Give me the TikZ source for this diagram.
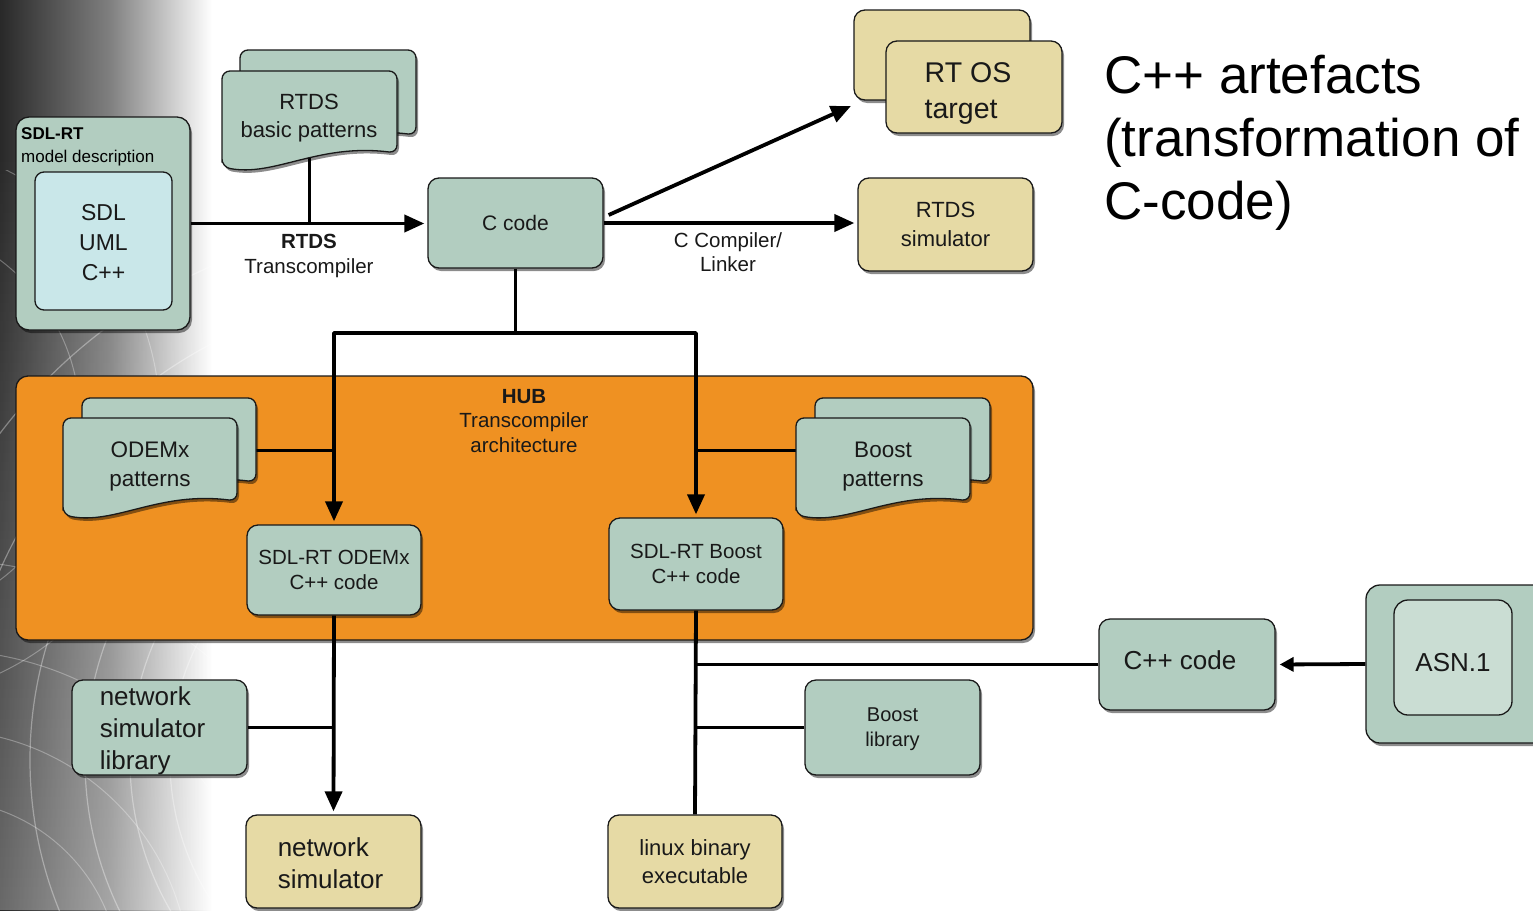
\documentclass[tikz,border=0pt]{standalone}
\usepackage{fontspec}
\setmainfont{Liberation Sans}
\usetikzlibrary{shadows,arrows.meta,fadings}
\definecolor{boxg}{HTML}{B2CDC0}
\definecolor{boxy}{HTML}{E6DAA5}
\definecolor{hubo}{HTML}{EF9122}
\definecolor{cyanin}{HTML}{C9E7E9}
\definecolor{asnin}{HTML}{CADDD3}
\newcommand\fsz[2]{\fontsize{#1pt}{#2pt}\selectfont}
\tikzset{
  shd/.style={drop shadow={shadow xshift=2pt, shadow yshift=-3pt, opacity=0.45, fill=black}},
  plainbox/.style={draw=black!90, line width=1.3pt, rounded corners=11pt, align=center, inner sep=0pt, text=black!90},
  box/.style={plainbox, shd},
  gbox/.style={box, fill=boxg},
  ybox/.style={box, fill=boxy},
  docsty/.style={draw=black!90, line width=1.3pt, rounded corners=8pt, fill=boxg, shd},
  conn/.style={line width=3.8pt, black},
  pconn/.style={line width=3pt, black},
  arr/.style={conn, -{Triangle[length=20pt, width=17pt]}, shorten >=3pt},
  lbl/.style={align=center, inner sep=0pt, text=black!90}
}
\newcommand\docshape[4]{%
  \path[docsty] (#1,#2+#4) -- (#1,#2) -- (#1+#3,#2) -- (#1+#3,#2+#4-14)
    .. controls (#1+0.55*#3,#2+#4-24) and (#1+0.3*#3,#2+#4+10) .. (#1,#2+#4) -- cycle;}
\begin{document}
\begin{tikzpicture}[x=1pt, y=-1pt, line join=round]
\clip (0,0) rectangle (1533,910);
\fill[white] (0,0) rectangle (1533,910);
% left background
\shade[left color=black!84, right color=black!50] (0,0) rectangle (110,910);
\shade[left color=black!50, right color=white] (110,0) rectangle (212,910);
\fill[white, path fading=north, fill opacity=0.3] (0,150) rectangle (212,910);
\begin{scope}
  \clip (0,170) rectangle (212,910);
  \foreach \r in {260,300,345,400,470,540} \draw[white, opacity=0.35, line width=1.2pt] (430,760) circle[radius=\r];
  \foreach \r in {180,250,330,420} \draw[white, opacity=0.3, line width=1pt] (-60,980) circle[radius=\r];
  \foreach \r in {200,280} \draw[white, opacity=0.3, line width=1pt] (-120,420) circle[radius=\r];
\end{scope}

% HUB container
\node[box, fill=hubo, minimum width=1017, minimum height=264, rounded corners=12pt] (hub) at (524.5,508) {};

% SDL-RT model
\node[gbox, minimum width=174, minimum height=213, rounded corners=13pt] (sdl) at (103,223.5) {};
\node[anchor=west, align=left, inner sep=0pt, font=\fsz{17}{23}] (sdlt) at (21,146.5) {\textbf{SDL-RT}\\model description};
\node[plainbox, fill=cyanin, minimum width=137, minimum height=138, rounded corners=9pt] (sdlin) at (103.5,241) {};
\node[lbl, font=\fsz{23}{30}] (sdlint) at ([yshift=-2pt]sdlin.center) {SDL\\UML\\C++};

% boxes
\node[gbox, minimum width=175, minimum height=90, font=\fsz{21}{25}] (ccode) at (515.5,223) {C code};
\node[ybox, minimum width=176, minimum height=90] (rtosback) at (942,55) {};
\node[ybox, minimum width=176, minimum height=92] (rtos) at (974,87) {};
\node[lbl, align=left, font=\fsz{28.5}{36}] (rtost) at ([xshift=-6pt,yshift=-7pt]rtos.center) {RT OS\\target};
\node[ybox, minimum width=175, minimum height=93, font=\fsz{22}{29}] (rtdssim) at (945.5,224.5) {RTDS\\simulator};
\node[gbox, minimum width=174, minimum height=90, font=\fsz{20.5}{25}] (odemxcode) at (334,570) {SDL-RT ODEMx\\C++ code};
\node[gbox, minimum width=174, minimum height=92, font=\fsz{20.5}{25}] (boostcode) at (696,564) {SDL-RT Boost\\C++ code};
\node[gbox, minimum width=175, minimum height=95] (nslib) at (159.5,727.5) {};
\node[lbl, align=left, font=\fsz{26}{32}] (nslibt) at ([xshift=-7pt,yshift=-3pt]nslib.center) {network\\simulator\\library};
\node[ybox, minimum width=175, minimum height=93] (nsim) at (333.5,861.5) {};
\node[lbl, align=left, font=\fsz{26}{32}] (nsimt) at ([xshift=-3pt,yshift=-2pt]nsim.center) {network\\simulator};
\node[ybox, minimum width=174, minimum height=93, font=\fsz{22}{28}] (linux) at (695,861.5) {linux binary\\executable};
\node[gbox, minimum width=175, minimum height=95] (boostlib) at (892.5,727.5) {};
\node[lbl, font=\fsz{20}{25}] (boostlibt) at ([yshift=-2pt]boostlib.center) {Boost\\library};
\node[gbox, minimum width=176, minimum height=91] (cppcode) at (1187,664.5) {};
\node[lbl, font=\fsz{26}{30}] (cppcodet) at ([xshift=-7pt,yshift=4pt]cppcode.center) {C++ code};
\node[gbox, minimum width=190, minimum height=158, rounded corners=14pt] (asnout) at (1461,664) {};
\node[plainbox, fill=asnin, minimum width=118, minimum height=115, rounded corners=14pt] (asnin) at (1453,657.5) {};
\node[lbl, font=\fsz{26}{30}] (asnint) at ([yshift=-5pt]asnin.center) {ASN.1};

% connectors hidden under document shapes
\coordinate (rtdsbpc) at (309,118);
\coordinate (odemxr) at (240,450);
\coordinate (boostl) at (830,450);
\draw[pconn] (rtdsbpc) -- (rtdsbpc |- sdl.east);
\draw[pconn] (odemxr) -- (odemxr -| odemxcode.north);
\draw[pconn] (boostl) -- (boostl -| boostcode.north);

% document stacks
\docshape{240}{50}{176}{99}
\docshape{222}{71}{175}{96}
\docshape{82}{398}{174}{98}
\docshape{63}{418}{174}{97}
\docshape{815}{398}{175}{98}
\docshape{796}{418}{174}{97}
\node[lbl, font=\fsz{22}{28}] (rtdsbp) at (rtdsbpc) {RTDS\\basic patterns};
\node[lbl, font=\fsz{22.5}{29}] (odemxp) at (150,466.5) {ODEMx\\patterns};
\node[lbl, font=\fsz{22.5}{29}] (boostp) at (883,466.5) {Boost\\patterns};

% labels
\node[lbl, font=\fsz{20.5}{25}] (rtdslbl) at (309,255.5) {\textbf{RTDS}\\Transcompiler};
\node[lbl, font=\fsz{20.5}{24}] (cclbl) at (728,252) {C Compiler/\\Linker};
\node[lbl, font=\fsz{20.5}{24.5}] (hublbl) at (524,421) {\textbf{HUB}\\Transcompiler\\architecture};
\node[anchor=west, align=left, inner sep=0pt, font=\fsz{53}{63}] (art) at (1104,143) {C++ artefacts\\(transformation of\\C-code)};

% main connectors
\coordinate (split) at (515.5,333);
\coordinate (rtostip) at (851,106);
\draw[arr] (sdl.east) -- (sdl.east -| ccode.west);
\draw[arr] (ccode.east) -- (ccode.east -| rtdssim.west);
\draw[arr, shorten >=0pt] ([xshift=5pt,yshift=8pt]ccode.east) -- (rtostip);
\draw[conn] (ccode.south) -- (split);
\draw[arr] (split) -| (odemxcode.north);
\draw[arr] (split) -| (boostcode.north);
\draw[arr] (odemxcode.south) -- (nsim.north);
\draw[conn] (boostcode.south) -- (linux.north);
\draw[pconn] (nslib.east) -- (nslib.east -| odemxcode.south);
\draw[pconn] (boostlib.west) -- (boostlib.west -| boostcode.south);
\draw[conn] (cppcode.west) -- (cppcode.west -| boostcode.south);
\draw[conn, -{Triangle[length=14pt, width=14pt]}, shorten >=4pt] (asnout.west) -- (cppcode.east);
\end{tikzpicture}
\end{document}
